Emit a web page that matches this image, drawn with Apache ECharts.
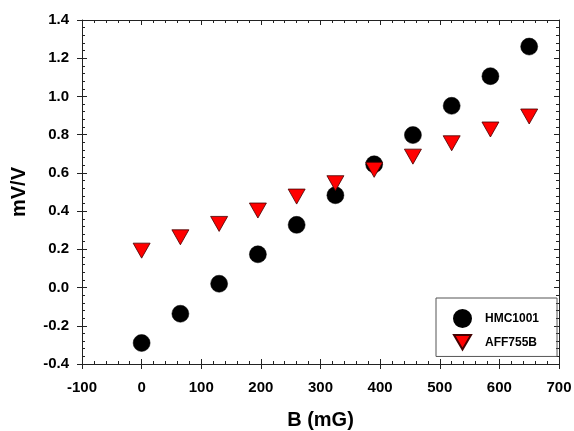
<!DOCTYPE html>
<html>
<head>
<meta charset="utf-8">
<script src="https://cdn.jsdelivr.net/npm/echarts@6/dist/echarts.min.js"></script>
<style>
html,body{margin:0;padding:0;background:#fff;}
#chart{width:574px;height:431px;}
</style>
</head>
<body>
<div id="chart"></div>
<script>
var fieldB = [0, 65, 130, 195, 260, 325, 390, 455, 520, 585, 650];
var hmc1001 = [-0.29, -0.137, 0.02, 0.174, 0.328, 0.483, 0.645, 0.798, 0.951, 1.106, 1.261];
var aff755b = [0.193, 0.263, 0.333, 0.403, 0.476, 0.546, 0.616, 0.685, 0.755, 0.827, 0.895];
var seriesNames = ['HMC1001', 'AFF755B'];
var xTitle = 'B (mG)';
var yTitle = 'mV/V';

function pairs(xs, ys) { return xs.map(function (x, i) { return [x, ys[i]]; }); }

var FONT = 'Arial, "Liberation Sans", sans-serif';
var AX = '#222';
var xRange = {min: -100, max: 700, interval: 100};
var yRange = {min: -0.4, max: 1.4, interval: 0.2};

function xAxisDef(kind) {
  var base = {type: 'value', min: xRange.min, max: xRange.max, interval: xRange.interval,
    splitLine: {show: false}, gridIndex: 0};
  if (kind === 'main') {
    return Object.assign(base, {position: 'bottom',
      axisLine: {show: true, onZero: false, lineStyle: {color: AX, width: 1}},
      axisTick: {show: true, inside: false, length: 5, lineStyle: {color: AX}},
      axisLabel: {show: true, margin: 16, color: '#000', fontSize: 15, fontWeight: 'bold', fontFamily: FONT},
      name: xTitle, nameLocation: 'middle', nameGap: 46,
      nameTextStyle: {color: '#000', fontSize: 20, fontWeight: 'bold', fontFamily: FONT}});
  }
  return Object.assign(base, {position: kind,
    axisLine: {show: kind === 'top', onZero: false, lineStyle: {color: AX, width: 1}},
    axisTick: {show: true, inside: true, length: 5, lineStyle: {color: AX}},
    minorTick: {show: true, splitNumber: 5, length: 3, lineStyle: {color: AX}},
    axisLabel: {show: false}});
}
function yAxisDef(kind) {
  var base = {type: 'value', min: yRange.min, max: yRange.max, interval: yRange.interval,
    splitLine: {show: false}, gridIndex: 0};
  if (kind === 'main') {
    return Object.assign(base, {position: 'left',
      axisLine: {show: true, onZero: false, lineStyle: {color: AX, width: 1}},
      axisTick: {show: true, inside: false, length: 5, lineStyle: {color: AX}},
      axisLabel: {show: true, margin: 13, color: '#000', fontSize: 15, fontWeight: 'bold', fontFamily: FONT,
        formatter: function (v) { return v.toFixed(1); }},
      name: yTitle, nameLocation: 'middle', nameGap: 53, nameRotate: 90,
      nameTextStyle: {color: '#000', fontSize: 20, fontWeight: 'bold', fontFamily: FONT}});
  }
  return Object.assign(base, {position: kind,
    axisLine: {show: kind === 'right', onZero: false, lineStyle: {color: AX, width: 1}},
    axisTick: {show: true, inside: true, length: 5, lineStyle: {color: AX}},
    minorTick: {show: true, splitNumber: 5, length: 3, lineStyle: {color: AX}},
    axisLabel: {show: false}});
}

var chart = echarts.init(document.getElementById('chart'), null, {renderer: 'canvas'});
chart.setOption({
  animation: false,
  backgroundColor: '#fff',
  grid: {left: 82, right: 15, top: 20, bottom: 67, containLabel: false, outerBoundsMode: 'none'},
  xAxis: [xAxisDef('main'), xAxisDef('bottom'), xAxisDef('top')],
  yAxis: [yAxisDef('main'), yAxisDef('left'), yAxisDef('right')],
  legend: {
    orient: 'vertical', left: 436, top: 298,
    data: seriesNames,
    itemWidth: 17, itemHeight: 17, itemGap: 6,
    padding: [11, 18, 6, 17],
    borderColor: '#555', borderWidth: 1,
    textStyle: {color: '#000', fontSize: 12, fontWeight: 'bold', fontFamily: FONT, padding: [0, 0, 0, 9]}
  },
  series: [
    {name: seriesNames[0], type: 'scatter', xAxisIndex: 0, yAxisIndex: 0,
     symbol: 'circle', symbolSize: 17,
     itemStyle: {color: '#000', borderColor: '#000', borderWidth: 0.5, opacity: 1},
     data: pairs(fieldB, hmc1001)},
    {name: seriesNames[1], type: 'scatter', xAxisIndex: 0, yAxisIndex: 0,
     symbol: 'path://M0,0 L20,0 L10,17 Z', symbolSize: [17, 15], symbolKeepAspect: false,
     itemStyle: {color: '#ff0000', borderColor: '#400', borderWidth: 0.8, opacity: 1},
     data: pairs(fieldB, aff755b)}
  ]
});
</script>
</body>
</html>
